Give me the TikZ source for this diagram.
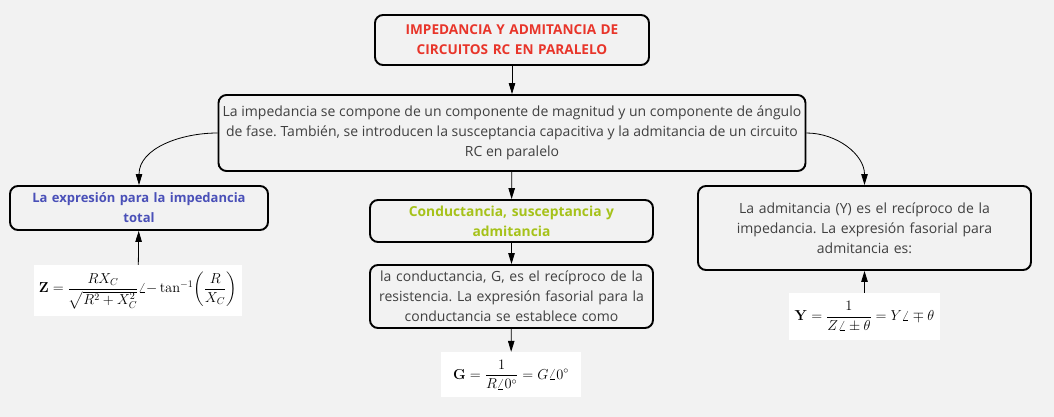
\documentclass[tikz,border=0pt]{standalone}
\usepackage{amsmath}
\usepackage[no-math]{fontspec}
\setmainfont{Open Sans}
\usetikzlibrary{arrows.meta}
\frenchspacing
\definecolor{bgc}{HTML}{F2F2F2}
\definecolor{txt}{HTML}{404040}
\definecolor{ttl}{HTML}{E8352A}
\definecolor{blu}{HTML}{4A50B8}
\definecolor{grn}{HTML}{A6C21A}
\tikzset{
  box/.style={draw=black, line width=1.9pt, rounded corners=8pt, fill=bgc, inner sep=0pt, align=center, text=txt, font=\fontsize{14}{20}\selectfont\frenchspacing},
  fbox/.style={fill=white, inner sep=0pt, text=black, font=\fontsize{14.5}{18}\selectfont},
  arr/.style={-{Triangle[length=11pt,width=6.5pt]}, line width=0.8pt, black},
}
\begin{document}
\begin{tikzpicture}[x=1pt,y=-1pt]
\fill[bgc] (0,0) rectangle (1054,417);
\useasboundingbox (0,0) rectangle (1054,417);
\node[box, minimum width=274pt, minimum height=50pt, text width=266pt, text=ttl, font=\fontsize{13.6}{20}\selectfont\bfseries] (T) at (512,40) {IMPEDANCIA Y ADMITANCIA DE\\CIRCUITOS RC EN PARALELO};
\node[box, minimum width=587pt, minimum height=76pt] (M) at (512,133) {La impedancia se compone de un componente de magnitud y un componente de ángulo\\de fase. También, se introducen la susceptancia capacitiva y la admitancia de un circuito\\RC en paralelo};
\node[box, minimum width=258pt, minimum height=44pt, text width=250pt, text=blu, font=\fontsize{13}{20}\selectfont\bfseries] (L) at (139,208) {La expresión para la impedancia\\total};
\node[box, minimum width=283pt, minimum height=42pt, text width=275pt, text=grn, font=\fontsize{13.8}{20}\selectfont\bfseries] (C1) at (511.5,221) {Conductancia, susceptancia y\\admitancia};
\node[box, minimum width=283pt, minimum height=63pt, text width=275pt] (C2) at (511.5,296.5) {la conductancia, G, es el recíproco de la\\resistencia. La expresión fasorial para la\\conductancia se establece como};
\node[box, minimum width=333pt, minimum height=84pt, text width=325pt] (R) at (864.5,228) {La admitancia (Y) es el recíproco de la\\impedancia. La expresión fasorial para\\admitancia es:};
\node[fbox, minimum width=208pt, minimum height=51pt] (Zf) at (138,290.5) {$\mathbf{Z} = \dfrac{RX_C}{\sqrt{R^2+X_C^2}}\angle{-\tan^{-1}}\!\left(\dfrac{R}{X_C}\right)$};
\node[fbox, minimum width=140pt, minimum height=45pt] (Gf) at (511,374.5) {$\mathbf{G} = \dfrac{1}{R\angle 0^\circ} = G\angle 0^\circ$};
\node[fbox, minimum width=151pt, minimum height=47pt] (Yf) at (864.5,316.5) {$\mathbf{Y} = \dfrac{1}{Z\angle \pm\theta} = Y\angle \mp\theta$};
\draw[arr] (T) -- (M);
\draw[arr] (M) -- (C1);
\draw[arr] (C1) -- (C2);
\draw[arr] (C2) -- (Gf);
\draw[arr] (Zf) -- (L);
\draw[arr] (Yf) -- (R);
\draw[arr] (M.west) to[out=180,in=90] (L.north);
\draw[arr] (M.east) to[out=0,in=90] (R.north);
\end{tikzpicture}
\end{document}
